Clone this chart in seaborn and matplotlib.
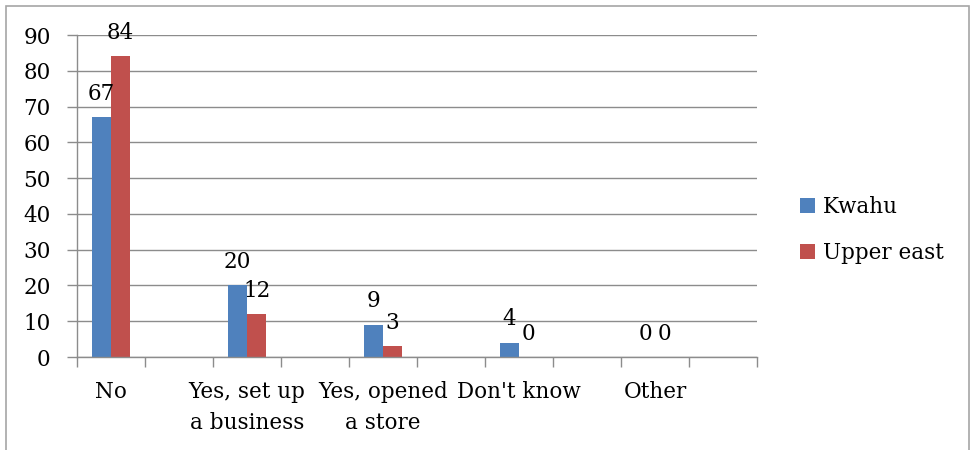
import matplotlib
matplotlib.use("Agg")
import matplotlib.pyplot as plt
import matplotlib.patches as mpatches
import numpy as np
import pandas as pd
import seaborn as sns

# Survey answers (blank slots keep the spacing of the source sheet)
categories = ["No", "Yes, set up\na business", "Yes, opened\na store", "Don't know", "Other"]
slot_order = ["No", "_gap1", "Yes, set up\na business", "_gap2", "Yes, opened\na store",
              "_gap3", "Don't know", "_gap4", "Other", "_gap5"]
kwahu = [67, 20, 9, 4, 0]
upper_east = [84, 12, 3, 0, 0]
regions = ["Kwahu", "Upper east"]
colors = ["#4F81BD", "#C0504D"]
y_ticks = list(range(0, 100, 10))

df = pd.DataFrame({
    "answer": categories * 2,
    "region": [regions[0]] * len(categories) + [regions[1]] * len(categories),
    "value": kwahu + upper_east,
})

sns.set_style("white")
plt.rcParams["font.family"] = ["DejaVu Serif"]
plt.rcParams["text.color"] = "black"
plt.rcParams["xtick.color"] = "black"
plt.rcParams["ytick.color"] = "black"

FS = 15.5

fig = plt.figure(figsize=(9.73, 4.5), dpi=100)
ax = fig.add_axes([77 / 973, 1 - 357 / 450, (757 - 77) / 973, (357 - 35) / 450])

sns.barplot(data=df, x="answer", y="value", hue="region", order=slot_order,
            hue_order=regions, palette=colors, width=0.57, gap=0,
            linewidth=0, saturation=1, errorbar=None, ax=ax)

grid_col = "#8c8c8c"
ax.set_ylim(0, 90)
ax.set_xlim(-0.5, len(slot_order) - 0.5)
ax.set_yticks(y_ticks)
ax.yaxis.grid(True, color=grid_col, linewidth=1)
ax.set_axisbelow(True)
for side in ["top", "right"]:
    ax.spines[side].set_visible(False)
for side in ["left", "bottom"]:
    ax.spines[side].set_color(grid_col)
    ax.spines[side].set_linewidth(1)

ax.tick_params(axis="y", which="major", length=7, width=1, color=grid_col,
               labelcolor="black", labelsize=FS, pad=12, left=True)

# tick marks between slots, labels centred on the slots
ax.set_xticks(np.arange(-0.5, len(slot_order), 1.0))
ax.set_xticklabels([])
ax.tick_params(axis="x", which="major", length=7, width=1, color=grid_col, bottom=True)
ax.set_xticks([slot_order.index(c) for c in categories], minor=True)
ax.set_xticklabels(categories, minor=True, fontsize=FS, linespacing=1.55, color="black")
ax.tick_params(axis="x", which="minor", length=0, pad=17)
ax.set_xlabel("")
ax.set_ylabel("")

for cont in ax.containers:
    ax.bar_label(cont, fmt="%g", padding=9, fontsize=FS, color="black")

handles = [mpatches.Patch(facecolor=c, edgecolor="none") for c in colors]
fig.legend(handles, regions, loc="center left", bbox_to_anchor=(781 / 973, 1 - 230 / 450),
           frameon=False, fontsize=FS, handlelength=0.7, handleheight=0.7,
           handletextpad=0.35, labelspacing=1.15)
if ax.get_legend() is not None:
    ax.get_legend().remove()

# outer chart frame
frame = mpatches.Rectangle((6 / 973, -0.1), (969 - 6) / 973, 1.1 - 6 / 450,
                           transform=fig.transFigure, fill=False,
                           edgecolor="#a6a6a6", linewidth=1.2, clip_on=False)
fig.patches.append(frame)

fig.savefig("out.png", dpi=100)
